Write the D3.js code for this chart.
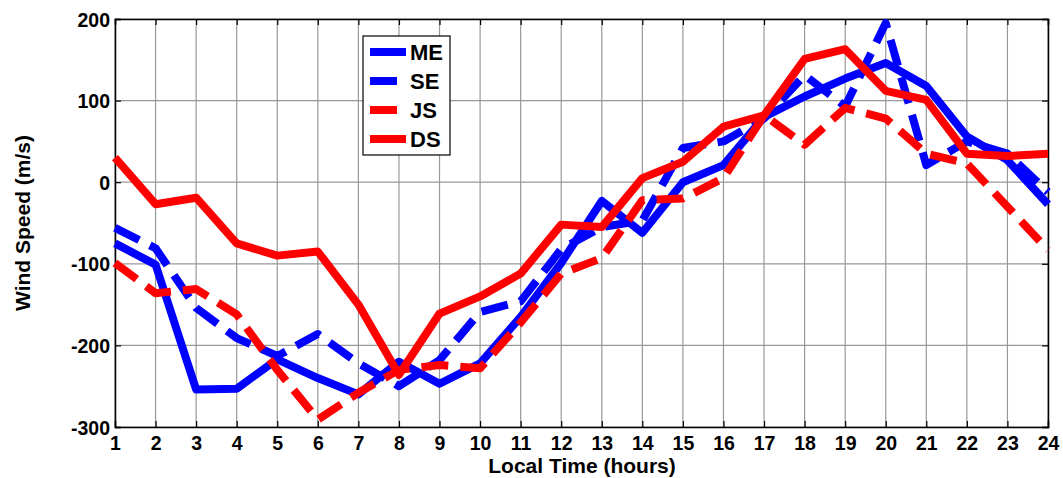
<!DOCTYPE html>
<html>
<head>
<meta charset="utf-8">
<script src="https://cdn.jsdelivr.net/npm/d3@7"></script>
<style>
  html, body { margin: 0; padding: 0; background: #fff; }
  svg { display: block; font-family: Arial, "Liberation Sans", sans-serif; font-weight: bold; }
</style>
</head>
<body>
<svg id="chart" width="1063" height="478"></svg>
<script>
// Hours of the day
const hours = d3.range(1, 25);

// Wind speed series (m/s) per hour
const ME = [-75, -101, -254, -253, -217, -240, -260, -220, -247, -222, -165, -99, -23, -62, 0, 21, 80, 105, 127, 146, 118, 56, 27, -27];
const SE = [-56, -81, -154, -191, -213, -186, -222, -250, -218, -159, -146, -82, -55, -47, 42, 50, 78, 131, 93, 195, 21, 50, 35, -12];
const JS = [-99, -136, -131, -162, -230, -291, -258, -230, -224, -228, -172, -112, -93, -22, -20, 5, 82, 46, 91, 78, 35, 23, -30, -83];
const DS = [30, -27, -19, -75, -90, -85, -150, -236, -161, -140, -112, -52, -55, 5, 25, 68, 82, 151, 163, 112, 101, 35, 32, 35];

const seriesNames = ["ME", "SE", "JS", "DS"];
const seriesData = [ME, SE, JS, DS];
const seriesColors = ["#0000ff", "#0000ff", "#ff0000", "#ff0000"];
const seriesDashed = [false, true, true, false];

const xTicks = hours;
const yTicks = [-300, -200, -100, 0, 100, 200];

const svg = d3.select("#chart");
const plot = { left: 115, top: 19, right: 1048, bottom: 427 };

const x = d3.scaleLinear().domain([1, 24]).range([plot.left, plot.right]);
const y = d3.scaleLinear().domain([-300, 200]).range([plot.bottom, plot.top]);

// Grid
const grid = svg.append("g").attr("stroke", "#999").attr("stroke-width", 1.2);
grid.selectAll("line.vx").data(xTicks).join("line")
  .attr("x1", d => x(d)).attr("x2", d => x(d))
  .attr("y1", plot.top).attr("y2", plot.bottom);
grid.selectAll("line.hy").data(yTicks).join("line")
  .attr("x1", plot.left).attr("x2", plot.right)
  .attr("y1", d => y(d)).attr("y2", d => y(d));

// Axes with inward ticks; plain hyphen for negatives
const plain = d => String(d);
const tickLen = 6;
const xAxisB = svg.append("g").attr("transform", `translate(0,${plot.bottom})`)
  .call(d3.axisBottom(x).tickValues(xTicks).tickSize(-tickLen).tickPadding(9).tickFormat(plain));
const xAxisT = svg.append("g").attr("transform", `translate(0,${plot.top})`)
  .call(d3.axisTop(x).tickValues(xTicks).tickSize(-tickLen).tickFormat(""));
const yAxisL = svg.append("g").attr("transform", `translate(${plot.left},0)`)
  .call(d3.axisLeft(y).tickValues(yTicks).tickSize(-tickLen).tickPadding(5).tickFormat(plain));
const yAxisR = svg.append("g").attr("transform", `translate(${plot.right},0)`)
  .call(d3.axisRight(y).tickValues(yTicks).tickSize(-tickLen).tickFormat(""));

[xAxisB, xAxisT, yAxisL, yAxisR].forEach(a => {
  a.select(".domain").attr("stroke", "#000").attr("stroke-width", 1.5);
  a.selectAll(".tick line").attr("stroke", "#000").attr("stroke-width", 1.2);
  a.selectAll(".tick text").attr("fill", "#000")
    .attr("font-size", 19.5).attr("font-weight", "bold")
    .attr("font-family", "Arial, 'Liberation Sans', sans-serif");
});
yAxisL.selectAll(".tick text").attr("dy", "0.36em");

// Series lines
const line = d3.line().x((d, i) => x(hours[i])).y(d => y(d));
seriesData.forEach((vals, k) => {
  svg.append("path")
    .datum(vals)
    .attr("d", line)
    .attr("fill", "none")
    .attr("stroke", seriesColors[k])
    .attr("stroke-width", 8)
    .attr("stroke-linejoin", "round")
    .attr("stroke-dasharray", seriesDashed[k] ? "27,12" : null);
});

// Axis titles
svg.append("text")
  .attr("x", 582).attr("y", 473)
  .attr("text-anchor", "middle").attr("font-size", 21)
  .text("Local Time (hours)");
svg.append("text")
  .attr("transform", `translate(30,${(plot.top + plot.bottom) / 2}) rotate(-90)`)
  .attr("text-anchor", "middle").attr("font-size", 21)
  .text("Wind Speed (m/s)");

// Legend
const legend = svg.append("g").attr("transform", "translate(363,36)");
legend.append("rect").attr("width", 87).attr("height", 119)
  .attr("fill", "#fff").attr("stroke", "#000").attr("stroke-width", 1.2);
seriesNames.forEach((name, k) => {
  const ry = 16 + k * 29;
  legend.append("line")
    .attr("x1", 7).attr("x2", seriesDashed[k] ? 34 : 43)
    .attr("y1", ry).attr("y2", ry)
    .attr("stroke", seriesColors[k]).attr("stroke-width", 8);
  legend.append("text")
    .attr("x", 47).attr("y", ry).attr("dy", "0.36em")
    .attr("font-size", 22).text(name);
});
</script>
</body>
</html>
